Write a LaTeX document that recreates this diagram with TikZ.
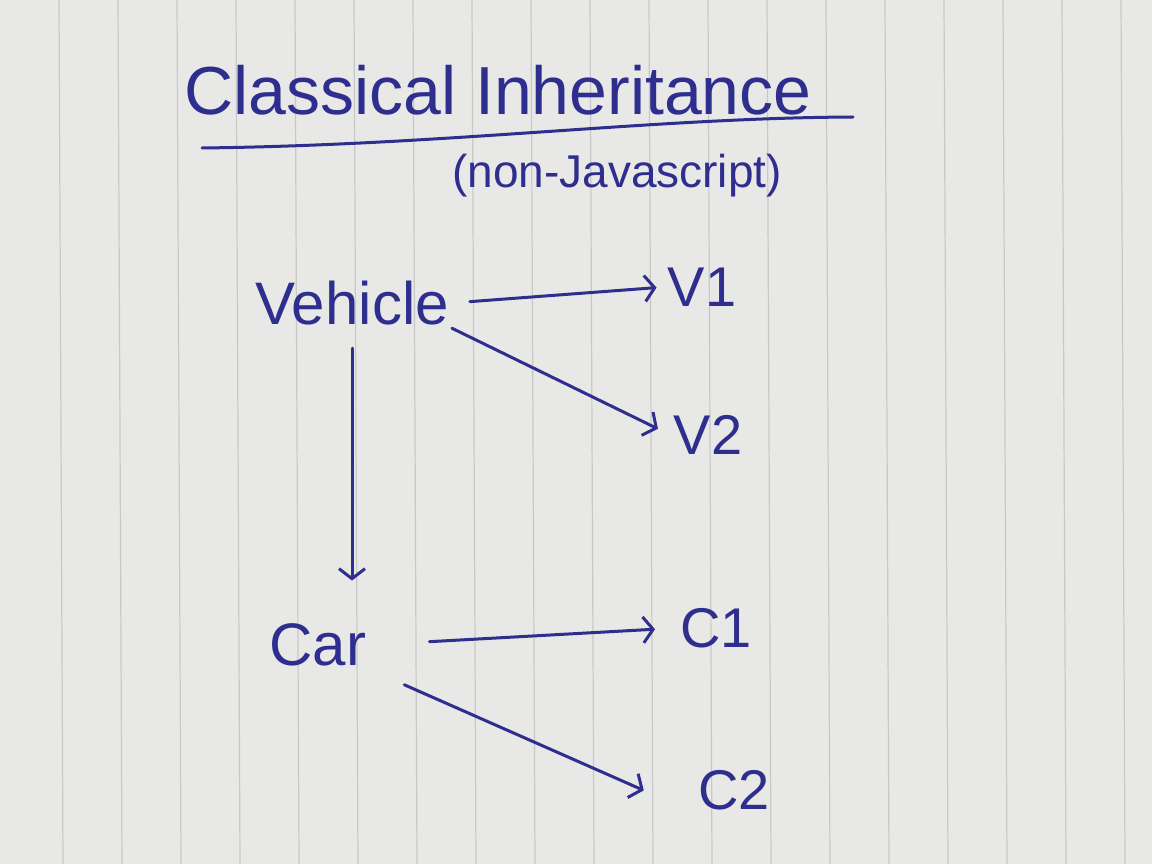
\documentclass[tikz,border=0pt]{standalone}
\usepackage{fontspec}
\setmainfont{Liberation Sans}
\usetikzlibrary{arrows.meta}
\definecolor{ink}{HTML}{2E2E8E}
\definecolor{paper}{HTML}{E8E8E6}
\definecolor{rule}{HTML}{C8C8C8}
\tikzset{
  lbl/.style={text=ink, inner sep=3pt, font=\fontsize{#1}{#1}\selectfont},
  conn/.style={draw=ink, line width=3pt, line cap=round, -{Straight Barb[length=10pt,width=26pt,line width=3pt]}},
  rulemark/.style={draw=rule, line width=1.2pt}
}
\begin{document}
\begin{tikzpicture}[x=1pt,y=-1pt]
\useasboundingbox (0,0) rectangle (1152,864);
\fill[paper] (0,0) rectangle (1152,864);
\foreach \i in {0,...,18} {
  \draw[rulemark] ({59+59*\i},0) -- ({63+59*\i},864);
}
\node[lbl=68] (title) at (498,90) {Classical Inheritance};
\coordinate (ulA) at (202,148);
\coordinate (ulB) at (853,117);
\draw[draw=ink, line width=3pt, line cap=round] (ulA) .. controls (450,145) and (650,118) .. (ulB);
\node[lbl=46] (sub) at (617,176) {(non-Javascript)};
\node[lbl=60] (vehicle) at (352,303) {Vehicle};
\node[lbl=56] (v1) at (702,287) {V1};
\node[lbl=56] (v2) at (708,435) {V2};
\node[lbl=60] (car) at (318,645) {Car};
\node[lbl=56] (c1) at (716,628) {C1};
\node[lbl=56] (c2) at (734,790) {C2};
\draw[conn, shorten <=18pt, shorten >=8pt] (vehicle.east) -- (v1.west);
\draw[conn, shorten >=14pt] (vehicle.south east) -- (v2.west);
\draw[conn, shorten <=20pt, shorten >=40pt] (vehicle.south) -- (vehicle.south |- car.north);
\draw[conn, shorten <=60pt, shorten >=22pt] (car.east) -- (c1.west);
\draw[conn, shorten <=38pt, shorten >=56pt] (car.south east) -- (c2.south west);
\end{tikzpicture}
\end{document}
